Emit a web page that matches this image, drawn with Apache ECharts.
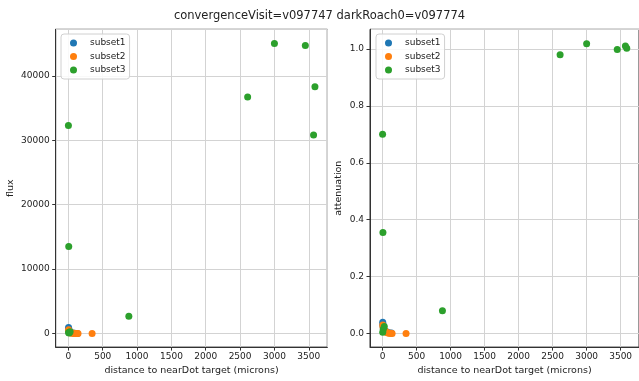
<!DOCTYPE html>
<html>
<head>
<meta charset="utf-8">
<script src="https://cdn.jsdelivr.net/npm/echarts@6/dist/echarts.min.js"></script>
<style>
  html, body { margin: 0; padding: 0; background: #fff; }
  #chart { width: 639px; height: 381px; }
</style>
</head>
<body>
<div id="chart"></div>
<script>
// Per-subset measurements: distance to target (microns), flux and attenuation.
const subset1Dist  = [2, 5, 10, 20, 35, 60, 90, 130, 8, 15];
const subset1Flux  = [950, 700, 400, 250, 150, 80, 40, 20, 600, 300];
const subset1Atten = [0.040, 0.032, 0.022, 0.015, 0.010, 0.006, 0.003, 0.002, 0.028, 0.018];

const subset2Dist  = [3, 8, 15, 25, 40, 60, 80, 100, 120, 140, 345, 10, 30];
const subset2Flux  = [600, 450, 300, 200, 120, 60, 30, 15, 10, 5, 0, 350, 90];
const subset2Atten = [0.030, 0.024, 0.018, 0.012, 0.008, 0.004, 0.002, 0.001, 0.001, 0.0005, 0.0, 0.020, 0.010];

const subset3Dist  = [0, 5, 880, 2610, 3000, 3450, 3570, 3590, 2, 10, 25];
const subset3Flux  = [32300, 13500, 2700, 36700, 45000, 44700, 30800, 38300, 150, 80, 300];
const subset3Atten = [0.700, 0.355, 0.080, 0.980, 1.018, 0.998, 1.010, 1.002, 0.005, 0.015, 0.025];

const seriesNames = ['subset1', 'subset2', 'subset3'];
const seriesColors = ['#1f77b4', '#ff7f0e', '#2ca02c'];

const pairs = (xs, ys) => xs.map((x, i) => [x, ys[i]]);

const FONT = 'DejaVu Sans';
const AXIS_COLOR = '#333';
const GRID_COLOR = '#d3d3d3';

function xAxisFor(gridIndex) {
  return {
    type: 'value', gridIndex,
    min: -185, max: 3770, splitNumber: 8,
    name: 'distance to nearDot target (microns)',
    nameLocation: 'middle', nameGap: 17,
    nameTextStyle: { fontFamily: FONT, fontSize: 9.5, color: '#222' },
    axisLine: { show: true, onZero: false, lineStyle: { color: AXIS_COLOR, width: 1 } },
    axisTick: { show: true, inside: false, length: 3.5, lineStyle: { color: AXIS_COLOR } },
    axisLabel: { fontFamily: FONT, fontSize: 9, color: '#222', margin: 5,
                 showMinLabel: false, showMaxLabel: false, formatter: v => String(Math.round(v)) },
    splitLine: { show: true, lineStyle: { color: GRID_COLOR, width: 1 } }
  };
}

function yAxisFor(gridIndex, name, min, max, fmt, gap) {
  return {
    type: 'value', gridIndex, min, max, splitNumber: 5,
    name, nameLocation: 'middle', nameGap: gap, nameRotate: 90,
    nameTextStyle: { fontFamily: FONT, fontSize: 9.5, color: '#222' },
    axisLine: { show: true, onZero: false, lineStyle: { color: AXIS_COLOR, width: 1 } },
    axisTick: { show: true, inside: false, length: 3.5, lineStyle: { color: AXIS_COLOR } },
    axisLabel: { fontFamily: FONT, fontSize: 9, color: '#222', margin: 6,
                 showMinLabel: false, showMaxLabel: false, formatter: fmt },
    splitLine: { show: true, lineStyle: { color: GRID_COLOR, width: 1 } }
  };
}

function legendAt(left) {
  return {
    left, top: 34, orient: 'vertical',
    data: seriesNames, icon: 'circle',
    itemWidth: 7, itemHeight: 7, itemGap: 3.5,
    padding: [4, 4, 4, 9],
    backgroundColor: 'rgba(255,255,255,0.85)',
    borderColor: '#d0d0d0', borderWidth: 1, borderRadius: 3,
    textStyle: { fontFamily: FONT, fontSize: 9, color: '#222', lineHeight: 10,
                 padding: [0, 0, 0, 8] }
  };
}

function scatter(nameIdx, data, axisIdx) {
  return {
    type: 'scatter', name: seriesNames[nameIdx],
    xAxisIndex: axisIdx, yAxisIndex: axisIdx,
    data, symbol: 'circle', symbolSize: 7,
    itemStyle: { color: seriesColors[nameIdx], opacity: 1 },
    emphasis: { disabled: true }, animation: false
  };
}

const chart = echarts.init(document.getElementById('chart'), null, { renderer: 'canvas' });
chart.setOption({
  animation: false,
  color: seriesColors,
  title: {
    text: 'convergenceVisit=v097747 darkRoach0=v097774',
    left: 'center', top: 5,
    textStyle: { fontFamily: FONT, fontSize: 11.5, fontWeight: 'normal', color: '#222' }
  },
  legend: [legendAt(61), legendAt(376)],
  grid: [
    { left: 55.7, top: 29.3, width: 271.6, height: 324, show: true,
      borderColor: AXIS_COLOR, borderWidth: 1, backgroundColor: 'transparent' },
    { left: 370, top: 29.3, width: 271.6, height: 324, show: true,
      borderColor: AXIS_COLOR, borderWidth: 1, backgroundColor: 'transparent' }
  ],
  xAxis: [xAxisFor(0), xAxisFor(1)],
  yAxis: [
    yAxisFor(0, 'flux', -2100, 47215, v => String(Math.round(v)), 40),
    yAxisFor(1, 'attenuation', -0.0476, 1.069, v => v.toFixed(1), 26)
  ],
  series: [
    scatter(0, pairs(subset1Dist, subset1Flux), 0),
    scatter(1, pairs(subset2Dist, subset2Flux), 0),
    scatter(2, pairs(subset3Dist, subset3Flux), 0),
    scatter(0, pairs(subset1Dist, subset1Atten), 1),
    scatter(1, pairs(subset2Dist, subset2Atten), 1),
    scatter(2, pairs(subset3Dist, subset3Atten), 1)
  ]
});
</script>
</body>
</html>
